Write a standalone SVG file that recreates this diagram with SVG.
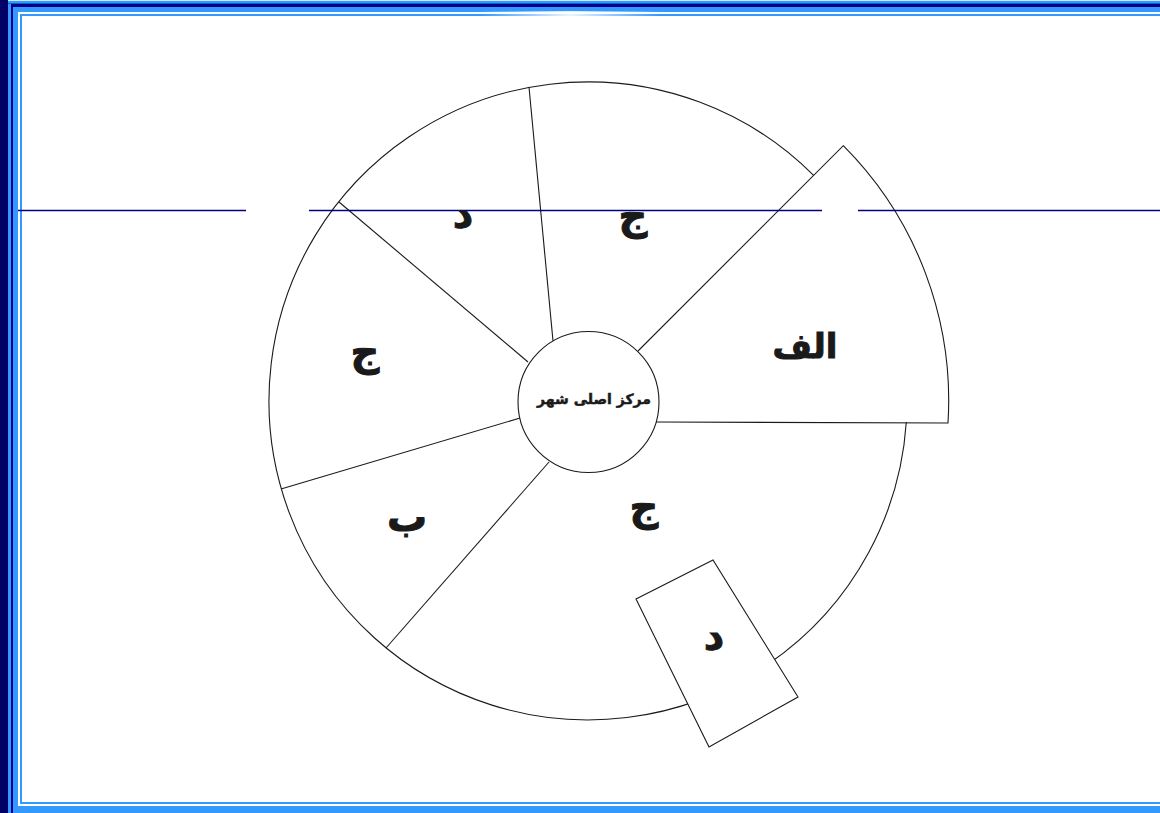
<svg xmlns="http://www.w3.org/2000/svg" width="1160" height="813" viewBox="0 0 1160 813">
<defs>
<style>
.ln{fill:none;stroke:#1a1a1a;stroke-width:1.1}
.sh{fill:#fff;stroke:#1a1a1a;stroke-width:1.1}
.lb{font-family:"DejaVu Sans",sans-serif;font-weight:bold;font-size:40px;fill:#1a1a1a;stroke:#1a1a1a;stroke-width:1;text-anchor:middle;dominant-baseline:central}
.lb2{font-size:34px}
.ctr{font-family:"DejaVu Sans",sans-serif;font-weight:bold;font-size:14px;fill:#1a1a1a;stroke:#1a1a1a;stroke-width:0.5;text-anchor:middle;dominant-baseline:central}
</style>
<linearGradient id="glow" x1="0" y1="0" x2="1" y2="0">
<stop offset="0" stop-color="#fff" stop-opacity="0"/>
<stop offset="0.5" stop-color="#fff" stop-opacity="0.9"/>
<stop offset="1" stop-color="#fff" stop-opacity="0"/>
</linearGradient>
</defs>
<g id="frame">
<rect x="0" y="0" width="1160" height="813" fill="#3399ff"/>
<rect x="0" y="0" width="1160" height="1" fill="#cfe6ff"/>
<rect x="8" y="3" width="1152" height="1" fill="#0066cc"/>
<rect x="11" y="4" width="1149" height="3" fill="#000088"/>
<rect x="11" y="4" width="2" height="809" fill="#000088"/>
<rect x="0" y="0" width="8" height="813" fill="#000066"/>
<rect x="18" y="12" width="1142" height="794" fill="#fff"/>
<rect x="21" y="15" width="1160" height="788" fill="none" stroke="#3399ff" stroke-width="2"/>
<rect x="480" y="11" width="180" height="6" fill="url(#glow)"/>
</g>
<g id="connectors">
<path class="ln" d="M813.6 175.4A319 319 0 1 0 906.3 422"/>
<path class="ln" d="M529 87L553 341"/>
<path class="ln" d="M339 202L528 362"/>
<path class="ln" d="M281 489L520 418"/>
<path class="ln" d="M386 648L549 462"/>
</g>
<g id="sector-alef">
<path class="ln" d="M638 351L843.3 145.7A361 361 0 0 1 948 423L656 422"/>
<text class="lb lb2" x="805" y="346">الف</text>
</g>
<g id="guide">
<path d="M18 210.5H246M309 210.5H822M858 210.5H1160" stroke="#000080" stroke-width="1.4" fill="none"/>
</g>
<g id="center">
<circle class="sh" cx="588.5" cy="402" r="70.5"/>
<text class="ctr" x="594" y="399">مرکز اصلی شهر</text>
</g>
<g id="sector-dal-top"><text class="lb" x="463" y="214">د</text></g>
<g id="sector-jim-top"><text class="lb" x="633" y="215">ج</text></g>
<g id="sector-jim-left"><text class="lb" x="365" y="351">ج</text></g>
<g id="sector-be"><text class="lb" x="407" y="517">ب</text></g>
<g id="sector-jim-bottom"><text class="lb" x="644" y="506">ج</text></g>
<g id="block-dal">
<polygon class="sh" points="636,599 713,560 798,697 709,747"/>
<text class="lb" x="714" y="636">د</text>
</g>
</svg>
